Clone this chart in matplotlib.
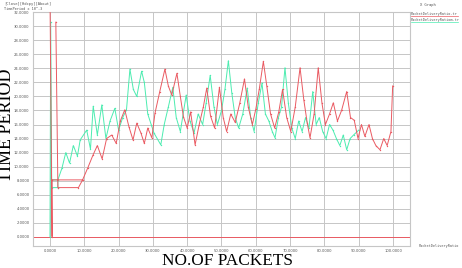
import numpy as np
import matplotlib
matplotlib.use("Agg")
import matplotlib.pyplot as plt

# ---------------- data ----------------
red_x = [-100, 600, 600, 9500, np.nan,
         1700, 2300, 8300, 9500,
         11000, 12500, 13800, 15200, 16500, 18000, 19300, 20500, 21800, 23000,
         24200, 25300, 26500, 27500, 28500, 29700, 30600, 32000, 33500, 34500,
         35500, 37000, 38000, 38900, 40000, 41000, 42300, 43500, 44700, 45700,
         46800, 48000, 49400, 50500, 51500, 52700, 54000, 55300, 56700, 57800,
         59000, 60000, 61000, 62200, 63200, 64300, 65500, 66700, 67800, 69000,
         70200, 71500, 72900, 74000, 75000, 75800, 77000, 78200, 79300, 80300,
         81500, 82600, 83800, 85000, 86500, 87600, 88700, 89800, 90800, 91800,
         93000, 94000, 95000, 96200, 97300, 98300, 99400, 99900]
red_y = [40, 0, 8.1, 8.1, np.nan,
         30.6, 7.0, 7.0, 8.1,
         9.8, 11.6, 13.0, 11.1, 14.0, 14.5, 13.3, 16.5, 18.1, 15.7,
         13.8, 16.2, 14.8, 13.3, 15.5, 14.1, 17.6, 20.7, 23.9, 21.5,
         20.2, 23.3, 20.0, 17.1, 15.5, 17.8, 13.1, 16.0, 18.5, 21.2,
         17.2, 15.5, 21.3, 17.0, 15.0, 17.5, 16.3, 19.0, 22.5, 18.5,
         16.0, 18.2, 21.0, 25.0, 21.5, 17.5, 15.5, 17.8, 21.0, 17.0,
         15.0, 18.5, 24.1, 19.5, 16.2, 14.1, 17.5, 24.1, 19.0, 16.0,
         17.5, 19.1, 16.5, 18.0, 20.7, 17.0, 16.6, 14.0, 16.0, 14.3,
         16.0, 14.0, 13.0, 12.4, 14.0, 13.0, 15.0, 21.5]

green_x = [0, 200, 500, 2300, 2300, 500, np.nan,
           2300, 3500, 4600, 5700, 6800, 8000, 8800, 10700, 11800, 12600,
           13800, 15100, 16300, 17500, 18900, 20000, 21200, 22300, 23300, 24300,
           25300, 26700, 27500, 28500, 29500, 30300, 32300, 33300, 34500, 35800,
           36800, 38000, 39700, 40800, 42000, 43200, 44500, 45500, 46700, 47800,
           48800, 50000, 51000, 52000, 53000, 54000, 55000, 56200, 57500, 58500,
           59500, 60700, 61800, 62800, 63800, 64800, 65600, 66600, 67500, 68500,
           69500, 70500, 71500, 72500, 73500, 74500, 75500, 76600, 77600, 78500,
           79500, 80500, 81500, 82500, 83500, 84500, 85500, 86500, 87500, 88500,
           90000]
green_y = [0, 30.6, 7.0, 7.0, 8.1, 8.1, np.nan,
           8.1, 9.8, 12.0, 10.5, 13.0, 11.5, 13.8, 15.2, 12.5, 18.6,
           14.5, 18.8, 14.0, 16.5, 18.3, 15.2, 17.0, 18.1, 23.9, 21.0,
           20.0, 23.6, 22.0, 17.5, 16.0, 14.8, 13.1, 16.0, 18.5, 21.3,
           17.0, 15.0, 20.2, 16.5, 14.8, 17.5, 16.0, 19.0, 23.0, 18.5,
           16.0, 18.0, 21.0, 25.1, 20.5, 17.0, 15.5, 17.5, 21.2, 17.0,
           15.0, 19.0, 21.9, 17.5, 16.5, 15.0, 14.1, 17.0, 18.5, 24.1,
           19.0, 15.5, 14.0, 16.5, 15.0, 17.0, 15.5, 20.7, 16.0, 17.0,
           15.0, 14.0, 16.0, 15.2, 14.0, 13.0, 14.5, 12.4, 14.0, 14.5,
           15.2]

x_ticks = [0, 10000, 20000, 30000, 40000, 50000, 60000, 70000, 80000, 90000, 100000]
x_tick_labels = ["0.0000", "10.0000", "20.0000", "30.0000", "40.0000", "50.0000",
                 "60.0000", "70.0000", "80.0000", "90.0000", "100.0000"]
y_ticks = list(range(0, 33, 2))
y_tick_labels = ["%d.0000" % v for v in y_ticks]

series_names = ["PacketDeliveryRatio.tr", "PacketDeliveryRatiom.tr"]

RED = "#ea5a62"
GREEN = "#4cecb0"
GRID = "#c6c6c6"
TXT = "#555555"

# ---------------- figure ----------------
fig = plt.figure(figsize=(4.62, 2.68), dpi=100)
ax = fig.add_axes([33 / 462, 1 - 246 / 268, (410 - 33) / 462, (246 - 12) / 268])

ax.set_xlim(-4956, 104956)
ax.set_ylim(-1.33, 32.05)
ax.set_xticks(x_ticks)
ax.set_xticklabels(x_tick_labels)
ax.set_yticks(y_ticks)
ax.set_yticklabels(y_tick_labels)
ax.tick_params(length=0, labelsize=2.7, pad=2.5, colors=TXT)
ax.grid(True, color=GRID, linewidth=0.7)
ax.set_axisbelow(True)
for s in ax.spines.values():
    s.set_color(GRID)
    s.set_linewidth(0.8)

ax.axhline(0, color=RED, linewidth=0.7, zorder=2)
ax.plot(green_x, green_y, color=GREEN, linewidth=0.7, marker="o", markersize=1.0,
        markeredgewidth=0, zorder=3)
ax.plot(red_x, red_y, color=RED, linewidth=0.7, marker="o", markersize=1.0,
        markeredgewidth=0, zorder=4)

# xgraph chrome texts
mono = "DejaVu Sans Mono"
fig.text(4 / 462, 1 - 4.5 / 268, "[Close][Hdcpy][About]", fontsize=2.7,
         family=mono, va="center", ha="left", color=TXT)
fig.text(4 / 462, 1 - 8.5 / 268, "TimePeriod x 10^-3", fontsize=2.6,
         family=mono, va="center", ha="left", color=TXT)
fig.text(428 / 462, 1 - 5 / 268, "X Graph", fontsize=2.7,
         family=mono, va="center", ha="center", color=TXT)
fig.text(411 / 462, 1 - 14 / 268, series_names[0], fontsize=2.5,
         family=mono, va="center", ha="left", color=TXT)
fig.text(411 / 462, 1 - 19.5 / 268, series_names[1], fontsize=2.5,
         family=mono, va="center", ha="left", color=TXT)
fig.add_artist(plt.Line2D([411 / 462, 458 / 462], [1 - 16 / 268, 1 - 16 / 268],
                          color=RED, linewidth=0.5))
fig.add_artist(plt.Line2D([411 / 462, 458 / 462], [1 - 21.5 / 268, 1 - 21.5 / 268],
                          color=GREEN, linewidth=0.5))
fig.text(419 / 462, 1 - 246 / 268, "PacketDeliveryRatio", fontsize=2.5,
         family=mono, va="center", ha="left", color=TXT)

# big labels
fig.text(7.0 / 462, 1 - 125 / 268, "TIME PERIOD", rotation=90, fontsize=13,
         family="Liberation Serif", va="center", ha="center", color="black")
fig.text(227 / 462, 1 - 265.0 / 268, "NO.OF PACKETS", fontsize=12.4,
         family="Liberation Serif", va="baseline", ha="center", color="black")

fig.savefig("out.png", dpi=100, facecolor="white")
